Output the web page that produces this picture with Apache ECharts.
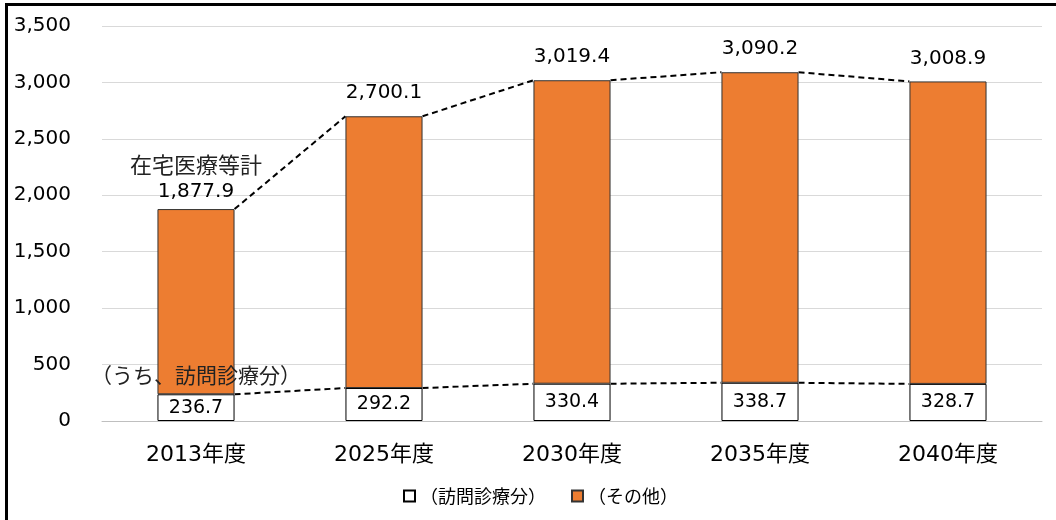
<!DOCTYPE html>
<html><head><meta charset="utf-8">
<script src="https://cdn.jsdelivr.net/npm/echarts@6/dist/echarts.min.js"></script>
<style>html,body{margin:0;padding:0;background:#fff}#c{width:1056px;height:520px}</style>
</head><body><div id="c"></div>
<script>
const categories = ['2013年度', '2025年度', '2030年度', '2035年度', '2040年度'];
const totals = [1877.9, 2700.1, 3019.4, 3090.2, 3008.9];
const visits = [236.7, 292.2, 330.4, 338.7, 328.7];
const seriesNames = ['（訪問診療分）', '（その他）'];
const totalCaption = '在宅医療等計';
const visitCaption = '（うち、訪問診療分）';

const others = totals.map((t, i) => Math.round((t - visits[i]) * 10) / 10);
const fmt = v => v.toLocaleString('en-US', {minimumFractionDigits: 1, maximumFractionDigits: 1});
const FONT = '"DejaVu Sans", "Noto Sans CJK JP", sans-serif';
const CJK = '"Noto Sans CJK JP", "Noto Sans", sans-serif';

const visitData = visits.map((v, i) => i === 0 ? {
  value: v,
  label: {
    formatter: '{a|' + visitCaption + '}\n{b|' + fmt(v) + '}',
    offset: [0, -22],
    rich: {
      a: {fontSize: 21, lineHeight: 44, color: '#222', fontFamily: CJK},
      b: {fontSize: 19, lineHeight: 22, color: '#000', fontFamily: FONT}
    }
  }
} : v);

const otherData = others.map((v, i) => i === 0 ? {
  value: v,
  label: {
    distance: 5,
    formatter: '{a|' + totalCaption + '}\n{b|' + fmt(totals[i]) + '}',
    rich: {
      a: {fontSize: 22, lineHeight: 30, color: '#222', fontFamily: CJK},
      b: {fontSize: 20, lineHeight: 24, color: '#000', fontFamily: FONT}
    }
  }
} : v);

const pairs = [];
for (let i = 0; i < categories.length - 1; i++) {
  pairs.push([i, totals[i], i + 1, totals[i + 1]]);
  pairs.push([i, visits[i], i + 1, visits[i + 1]]);
}
const BAR_RATIO = 0.41;

const chart = echarts.init(document.getElementById('c'));
chart.setOption({
  animation: false,
  textStyle: {fontFamily: FONT},
  grid: {left: 102, right: 14, top: 26, bottom: 99},
  legend: {
    data: seriesNames,
    left: 398, top: 482,
    icon: 'rect', itemWidth: 11, itemHeight: 11, itemGap: 25,
    textStyle: {fontSize: 18, color: '#000', fontFamily: CJK}
  },
  xAxis: {
    type: 'category', data: categories,
    axisLine: {lineStyle: {color: '#bfbfbf', width: 1}},
    axisTick: {show: false},
    axisLabel: {fontSize: 22, color: '#000', margin: 23, fontFamily: FONT}
  },
  yAxis: {
    type: 'value', min: 0, max: 3500, interval: 500,
    axisLine: {show: false}, axisTick: {show: false},
    splitLine: {lineStyle: {color: '#d9d9d9', width: 1}},
    axisLabel: {fontSize: 20, color: '#000', margin: 31, fontFamily: FONT,
      formatter: v => v.toLocaleString('en-US')}
  },
  series: [
    {
      name: seriesNames[0], type: 'bar', stack: 'a', barWidth: (BAR_RATIO * 100) + '%',
      data: visitData,
      itemStyle: {color: '#ffffff', borderColor: '#000', borderWidth: 1},
      label: {show: true, position: 'inside', fontSize: 19, color: '#000', fontFamily: FONT,
        formatter: p => fmt(p.value)}
    },
    {
      name: seriesNames[1], type: 'bar', stack: 'a', barWidth: (BAR_RATIO * 100) + '%',
      data: otherData,
      itemStyle: {color: '#ED7D31', borderColor: '#333', borderWidth: 1},
      label: {show: true, position: 'top', distance: 13, fontSize: 20, color: '#000', fontFamily: FONT,
        formatter: p => fmt(totals[p.dataIndex])}
    },
    {
      type: 'custom', silent: true, z: 5,
      data: pairs,
      encode: {x: [0, 2], y: [1, 3]},
      renderItem: (params, api) => {
        const hw = api.size([1, 0])[0] * BAR_RATIO / 2;
        const p1 = api.coord([api.value(0), api.value(1)]);
        const p2 = api.coord([api.value(2), api.value(3)]);
        return {type: 'line', shape: {x1: p1[0] + hw, y1: p1[1], x2: p2[0] - hw, y2: p2[1]},
          style: {stroke: '#000', lineWidth: 2, lineDash: [6, 4]}};
      }
    }
  ],
  graphic: [
    {type: 'line', shape: {x1: 6.5, y1: 3, x2: 6.5, y2: 520}, style: {stroke: '#000', lineWidth: 3}},
    {type: 'line', shape: {x1: 5, y1: 4.5, x2: 1056, y2: 4.5}, style: {stroke: '#000', lineWidth: 3}}
  ]
});
</script>
</body></html>
